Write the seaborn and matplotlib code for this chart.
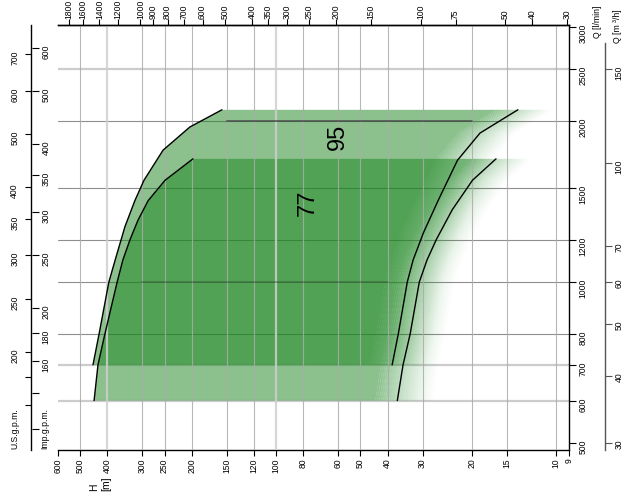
import matplotlib
matplotlib.use("Agg")
import matplotlib.pyplot as plt
import numpy as np
import seaborn as sns

# axis ticks
h_ticks = [600, 500, 400, 300, 250, 200, 150, 120, 100, 80, 60, 50, 40, 30, 20, 15, 10, 9]
ft_ticks = [1800, 1600, 1400, 1200, 1000, 900, 800, 700, 600, 500, 400, 350, 300,
            250, 200, 150, 100, 75, 50, 40, 30]
q_ticks = [500, 600, 700, 800, 1000, 1200, 1500, 2000, 2500, 3000]
m3h_ticks = [30, 40, 50, 60, 70, 100, 150]
us_ticks = [700, 600, 500, 400, 350, 300, 250, 200, 180, 160]
us_labels = ["700", "600", "500", "400", "350", "300", "250", "200", "", ""]
imp_ticks = [600, 500, 400, 350, 300, 250, 200, 180, 160, 140, 120]
imp_labels = ["600", "500", "400", "350", "300", "250", "200", "180", "160", "", ""]

# grid lines (light ones drawn wider and paler)
h_grid = [500, 400, 300, 250, 200, 150, 120, 100, 80, 60, 50, 40, 30, 20, 15, 10]
h_grid_light = [400, 100]
q_grid = [600, 700, 800, 1000, 1200, 1500, 2000, 2500]
q_grid_light = [2500, 700, 600]

# range "95"  (Q in l/min, H in m)
q95_left = [700, 800, 1000, 1100, 1270, 1420, 1550, 1765, 1950, 2100]
h95_left = [450, 428, 395, 375, 346, 319, 296, 253, 203, 156]
q95_right = [700, 800, 1000, 1100, 1235, 1420, 1690, 1900, 2100]
h95_right = [38.5, 36.6, 34.0, 32.4, 29.8, 26.4, 22.5, 18.7, 13.7]
q95_nom = 2000
h95_nom = [150, 20]

# range "77"
q77_left = [600, 700, 800, 1000, 1100, 1200, 1305, 1420, 1550, 1700]
h77_left = [446, 432, 408, 369, 352, 332, 311, 286, 249, 198]
q77_right = [600, 700, 800, 1000, 1100, 1200, 1365, 1550, 1700]
h77_right = [36.9, 35.2, 33.2, 30.8, 28.9, 26.8, 23.5, 19.9, 16.4]
q77_nom = 1000
h77_nom = [300, 40]

GREEN = "#1a851f"
W, HPX = 627, 499
FS = 6.2

sns.set_style("white")
plt.rcParams["font.family"] = ["Liberation Sans Narrow", "Liberation Sans", "DejaVu Sans"]
plt.rcParams.update({"axes.linewidth": 1.0, "axes.edgecolor": "black", "text.color": "black",
                     "xtick.color": "black", "ytick.color": "black"})

fig = plt.figure(figsize=(W / 100, HPX / 100), dpi=100)
ax = fig.add_axes([58 / W, 49 / HPX, 511 / W, 425 / HPX])
ax.set_xscale("log")
ax.set_yscale("log")
xlim = (600, 9)
ylim = (485, 3026)


def draw_range(hl, ql, hr, qr):
    hl, ql, hr, qr = map(np.asarray, (hl, ql, hr, qr))
    dec = 511 / np.log10(600 / 9)  # pixels per decade of H
    back, fwd, n = 22, 36, 29
    offs = np.linspace(-back, fwd, n + 1)
    hs = hr * 10 ** (back / dec)
    ax.fill(np.r_[hl, hs[::-1]], np.r_[ql, qr[::-1]], color=GREEN, alpha=0.5, lw=0, zorder=2)
    for k in range(n):
        h0 = hr * 10 ** (-offs[k] / dec)
        h1 = hr * 10 ** (-offs[k + 1] / dec)
        a = 0.5 * (1 - (k + 0.5) / n) ** 1.2
        ax.fill(np.r_[h0, h1[::-1]], np.r_[qr, qr[::-1]], color=GREEN, alpha=a, lw=0, zorder=2)


# grid
for q in q_grid:
    light = q in q_grid_light
    ax.axhline(q, color="#cccccc" if light else "#8f8f8f", lw=1.6 if light else 0.8, zorder=1)

draw_range(h95_left, q95_left, h95_right, q95_right)
draw_range(h77_left, q77_left, h77_right, q77_right)

for h in h_grid:
    light = h in h_grid_light
    ax.axvline(h, color="#cfcfcf" if light else "#ababab", lw=1.6 if light else 0.8,
               alpha=0.85, zorder=3)

ax.plot(h95_nom, [q95_nom] * 2, color="#4a4a4a", alpha=0.75, lw=1.4, zorder=4)
ax.plot(h77_nom, [q77_nom] * 2, color="#3a5a3a", alpha=0.5, lw=1.3, zorder=4)

for h, q in [(h95_left, q95_left), (h95_right, q95_right),
             (h77_left, q77_left), (h77_right, q77_right)]:
    sns.lineplot(x=h, y=q, sort=False, estimator=None, color="black", lw=1.0, ax=ax, zorder=5)

ax.text(60, 1870, "95", rotation=90, ha="center", va="center", fontsize=17, zorder=6)
ax.text(77, 1410, "77", rotation=90, ha="center", va="center", fontsize=17, zorder=6)

ax.set_xlim(*xlim)
ax.set_ylim(*ylim)
ax.set_xlabel("")
ax.set_ylabel("")
ax.spines["left"].set_visible(False)

ax.set_xticks(h_ticks)
ax.set_xticklabels([str(v) for v in h_ticks])
ax.xaxis.set_minor_locator(matplotlib.ticker.NullLocator())
ax.tick_params(axis="x", bottom=True, direction="out", length=4, width=0.8,
               labelsize=FS, labelrotation=90, pad=2)

ax.yaxis.tick_right()
ax.set_yticks(q_ticks)
ax.set_yticklabels([str(v) for v in q_ticks])
ax.yaxis.set_minor_locator(matplotlib.ticker.NullLocator())
ax.tick_params(axis="y", right=True, left=False, direction="out", length=5, width=0.8,
               labelsize=FS, labelrotation=90, pad=2)

# feet scale on top
ax_top = ax.twiny()
ax_top.set_xscale("log")
ax_top.set_xlim(xlim[0] * 3.28084, xlim[1] * 3.28084)
ax_top.set_xticks(ft_ticks)
ax_top.set_xticklabels([str(v) for v in ft_ticks])
ax_top.xaxis.set_minor_locator(matplotlib.ticker.NullLocator())
ax_top.tick_params(axis="x", top=True, direction="out", length=4, width=0.8,
                   labelsize=FS, labelrotation=90, pad=0.5)
for s in ["left", "right", "bottom"]:
    ax_top.spines[s].set_visible(False)

# m3/h scale on the far right
ax_m = fig.add_axes([604 / W, 49 / HPX, 0.001, 425 / HPX])
ax_m.set_yscale("log")
ax_m.set_ylim(*ylim)
ax_m.set_xticks([])
ax_m.yaxis.tick_right()
ax_m.set_yticks([v * 1000 / 60 for v in m3h_ticks])
ax_m.set_yticklabels([str(v) for v in m3h_ticks])
ax_m.yaxis.set_minor_locator(matplotlib.ticker.NullLocator())
ax_m.tick_params(axis="y", direction="out", length=5, width=0.8, color="#555555",
                 labelsize=FS, labelrotation=90, pad=2)
for s in ["left", "top", "bottom"]:
    ax_m.spines[s].set_visible(False)
ax_m.spines["right"].set_color("#555555")
ax_m.spines["right"].set_bounds(ylim[0], 2800)
ax_m.patch.set_visible(False)

# U.S. / Imp. gallons per minute scale on the far left
ax_g = fig.add_axes([31 / W, 49 / HPX, 0.001, 425 / HPX])
ax_g.set_yscale("log")
ax_g.set_ylim(500, 3000)
ax_g.set_xticks([])
ax_g.set_yticks([v * 3.78541 for v in us_ticks])
ax_g.set_yticklabels(us_labels)
ax_g.yaxis.set_minor_locator(matplotlib.ticker.NullLocator())
ax_g.tick_params(axis="y", left=True, direction="out", length=4.5, width=0.8,
                 labelsize=FS, labelrotation=90, pad=4)
for s in ["right", "top", "bottom"]:
    ax_g.spines[s].set_visible(False)
ax_g.patch.set_visible(False)

ax_i = ax_g.twinx()
ax_i.set_yscale("log")
ax_i.set_ylim(500, 3000)
ax_i.set_yticks([v * 4.54609 for v in imp_ticks])
ax_i.set_yticklabels(imp_labels)
ax_i.yaxis.set_minor_locator(matplotlib.ticker.NullLocator())
ax_i.tick_params(axis="y", right=True, direction="out", length=5, width=0.8,
                 labelsize=FS, labelrotation=90, pad=2)
for s in ["left", "right", "top", "bottom"]:
    ax_i.spines[s].set_visible(False)

# axis titles
fig.text(15 / W, 1 - 449 / HPX, "U.S.g.p.m.", rotation=90, ha="center", va="bottom", fontsize=FS)
fig.text(45 / W, 1 - 449 / HPX, "Imp.g.p.m.", rotation=90, ha="center", va="bottom", fontsize=FS)
fig.text(100 / W, 1 - 491 / HPX, "H\n[m]", rotation=90, ha="center", va="bottom",
         multialignment="left", fontsize=7.5, linespacing=1.2)
fig.text(597 / W, 1 - 22 / HPX, "Q [l/min]", rotation=90, ha="center", va="center", fontsize=FS)
fig.text(618 / W, 1 - 26 / HPX, "Q [m ³/h]", rotation=90, ha="center", va="center", fontsize=FS)

fig.savefig("out.png", dpi=100)
